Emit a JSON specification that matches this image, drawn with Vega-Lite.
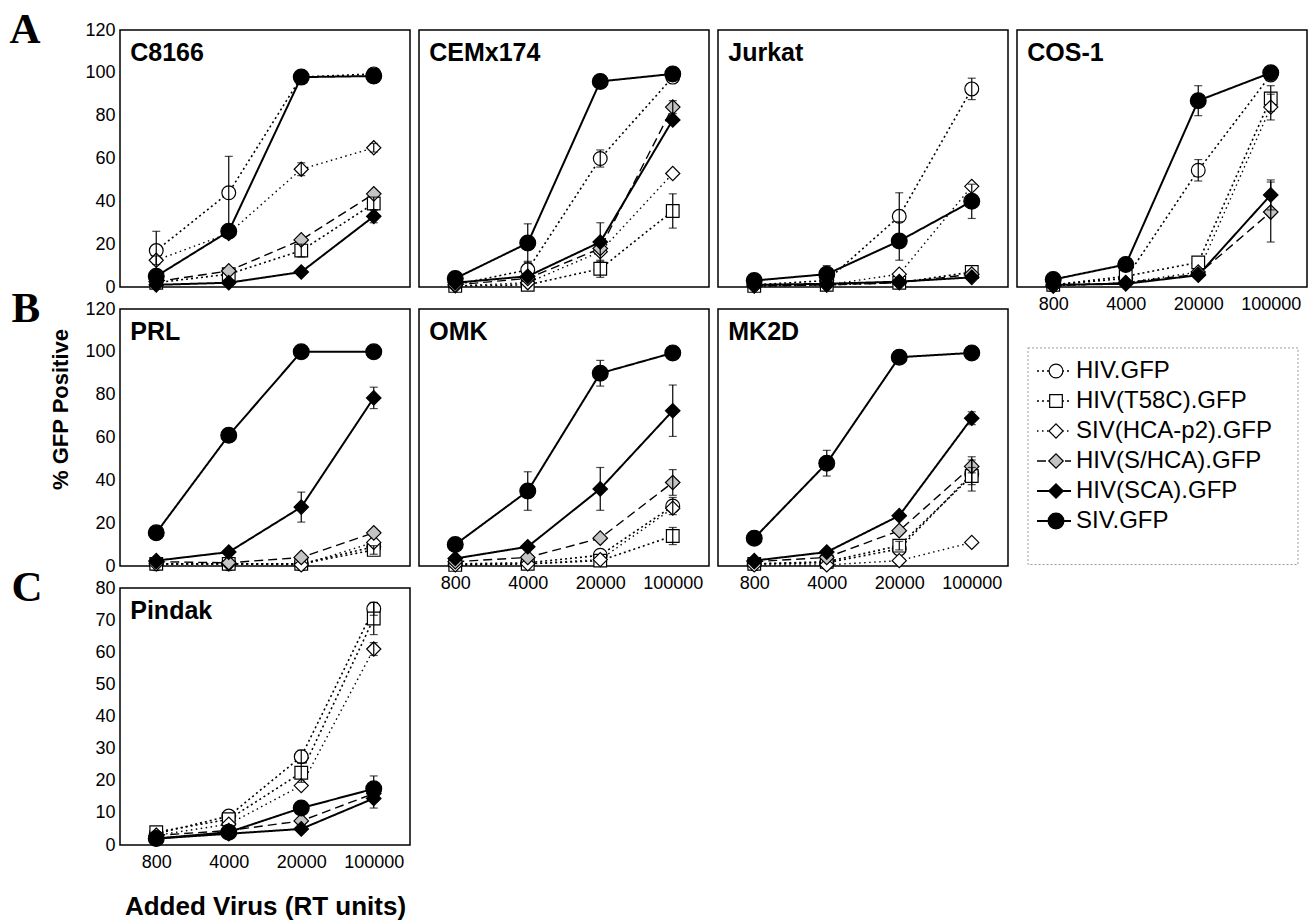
{
  "$schema": "https://vega.github.io/schema/vega-lite/v6.json",
  "padding": {"left": 8, "top": 7, "right": 0, "bottom": 0},
  "columns": 4,
  "spacing": {"row": 22, "column": 9},
  "bounds": "flush",
  "datasets": {
    "gfp": [
      {"cell":"C8166","dose":800,"series":"HIV.GFP","v":17,"err":9},
      {"cell":"C8166","dose":4000,"series":"HIV.GFP","v":44,"err":17},
      {"cell":"C8166","dose":20000,"series":"HIV.GFP","v":98},
      {"cell":"C8166","dose":100000,"series":"HIV.GFP","v":99.5,"err":1},
      {"cell":"C8166","dose":800,"series":"HIV(T58C).GFP","v":2},
      {"cell":"C8166","dose":4000,"series":"HIV(T58C).GFP","v":6},
      {"cell":"C8166","dose":20000,"series":"HIV(T58C).GFP","v":17,"err":3},
      {"cell":"C8166","dose":100000,"series":"HIV(T58C).GFP","v":39,"err":3},
      {"cell":"C8166","dose":800,"series":"SIV(HCA-p2).GFP","v":12.5,"err":2},
      {"cell":"C8166","dose":4000,"series":"SIV(HCA-p2).GFP","v":25},
      {"cell":"C8166","dose":20000,"series":"SIV(HCA-p2).GFP","v":55,"err":3},
      {"cell":"C8166","dose":100000,"series":"SIV(HCA-p2).GFP","v":65,"err":2},
      {"cell":"C8166","dose":800,"series":"HIV(S/HCA).GFP","v":2.5},
      {"cell":"C8166","dose":4000,"series":"HIV(S/HCA).GFP","v":7.5},
      {"cell":"C8166","dose":20000,"series":"HIV(S/HCA).GFP","v":22},
      {"cell":"C8166","dose":100000,"series":"HIV(S/HCA).GFP","v":43.5},
      {"cell":"C8166","dose":800,"series":"HIV(SCA).GFP","v":1},
      {"cell":"C8166","dose":4000,"series":"HIV(SCA).GFP","v":2},
      {"cell":"C8166","dose":20000,"series":"HIV(SCA).GFP","v":7},
      {"cell":"C8166","dose":100000,"series":"HIV(SCA).GFP","v":33,"err":3},
      {"cell":"C8166","dose":800,"series":"SIV.GFP","v":5},
      {"cell":"C8166","dose":4000,"series":"SIV.GFP","v":26},
      {"cell":"C8166","dose":20000,"series":"SIV.GFP","v":98},
      {"cell":"C8166","dose":100000,"series":"SIV.GFP","v":98.5},

      {"cell":"CEMx174","dose":800,"series":"HIV.GFP","v":1},
      {"cell":"CEMx174","dose":4000,"series":"HIV.GFP","v":8,"err":4},
      {"cell":"CEMx174","dose":20000,"series":"HIV.GFP","v":60,"err":4},
      {"cell":"CEMx174","dose":100000,"series":"HIV.GFP","v":98},
      {"cell":"CEMx174","dose":800,"series":"HIV(T58C).GFP","v":0.5},
      {"cell":"CEMx174","dose":4000,"series":"HIV(T58C).GFP","v":1},
      {"cell":"CEMx174","dose":20000,"series":"HIV(T58C).GFP","v":8.5,"err":4},
      {"cell":"CEMx174","dose":100000,"series":"HIV(T58C).GFP","v":35.5,"err":8},
      {"cell":"CEMx174","dose":800,"series":"SIV(HCA-p2).GFP","v":0.5},
      {"cell":"CEMx174","dose":4000,"series":"SIV(HCA-p2).GFP","v":2},
      {"cell":"CEMx174","dose":20000,"series":"SIV(HCA-p2).GFP","v":16.5},
      {"cell":"CEMx174","dose":100000,"series":"SIV(HCA-p2).GFP","v":53},
      {"cell":"CEMx174","dose":800,"series":"HIV(S/HCA).GFP","v":1},
      {"cell":"CEMx174","dose":4000,"series":"HIV(S/HCA).GFP","v":4},
      {"cell":"CEMx174","dose":20000,"series":"HIV(S/HCA).GFP","v":18},
      {"cell":"CEMx174","dose":100000,"series":"HIV(S/HCA).GFP","v":84,"err":3},
      {"cell":"CEMx174","dose":800,"series":"HIV(SCA).GFP","v":2},
      {"cell":"CEMx174","dose":4000,"series":"HIV(SCA).GFP","v":5},
      {"cell":"CEMx174","dose":20000,"series":"HIV(SCA).GFP","v":21,"err":9},
      {"cell":"CEMx174","dose":100000,"series":"HIV(SCA).GFP","v":78},
      {"cell":"CEMx174","dose":800,"series":"SIV.GFP","v":4},
      {"cell":"CEMx174","dose":4000,"series":"SIV.GFP","v":20.5,"err":9},
      {"cell":"CEMx174","dose":20000,"series":"SIV.GFP","v":96,"err":3},
      {"cell":"CEMx174","dose":100000,"series":"SIV.GFP","v":99.5},

      {"cell":"Jurkat","dose":800,"series":"HIV.GFP","v":1},
      {"cell":"Jurkat","dose":4000,"series":"HIV.GFP","v":3},
      {"cell":"Jurkat","dose":20000,"series":"HIV.GFP","v":33,"err":11},
      {"cell":"Jurkat","dose":100000,"series":"HIV.GFP","v":92.5,"err":5},
      {"cell":"Jurkat","dose":800,"series":"HIV(T58C).GFP","v":0.5},
      {"cell":"Jurkat","dose":4000,"series":"HIV(T58C).GFP","v":1},
      {"cell":"Jurkat","dose":20000,"series":"HIV(T58C).GFP","v":2},
      {"cell":"Jurkat","dose":100000,"series":"HIV(T58C).GFP","v":7},
      {"cell":"Jurkat","dose":800,"series":"SIV(HCA-p2).GFP","v":0.5},
      {"cell":"Jurkat","dose":4000,"series":"SIV(HCA-p2).GFP","v":1},
      {"cell":"Jurkat","dose":20000,"series":"SIV(HCA-p2).GFP","v":6},
      {"cell":"Jurkat","dose":100000,"series":"SIV(HCA-p2).GFP","v":47},
      {"cell":"Jurkat","dose":800,"series":"HIV(S/HCA).GFP","v":0.5},
      {"cell":"Jurkat","dose":4000,"series":"HIV(S/HCA).GFP","v":1},
      {"cell":"Jurkat","dose":20000,"series":"HIV(S/HCA).GFP","v":2},
      {"cell":"Jurkat","dose":100000,"series":"HIV(S/HCA).GFP","v":6},
      {"cell":"Jurkat","dose":800,"series":"HIV(SCA).GFP","v":1},
      {"cell":"Jurkat","dose":4000,"series":"HIV(SCA).GFP","v":1.5},
      {"cell":"Jurkat","dose":20000,"series":"HIV(SCA).GFP","v":2.5},
      {"cell":"Jurkat","dose":100000,"series":"HIV(SCA).GFP","v":4.5},
      {"cell":"Jurkat","dose":800,"series":"SIV.GFP","v":3},
      {"cell":"Jurkat","dose":4000,"series":"SIV.GFP","v":6,"err":4},
      {"cell":"Jurkat","dose":20000,"series":"SIV.GFP","v":21.5,"err":9},
      {"cell":"Jurkat","dose":100000,"series":"SIV.GFP","v":40,"err":8},

      {"cell":"COS-1","dose":800,"series":"HIV.GFP","v":1},
      {"cell":"COS-1","dose":4000,"series":"HIV.GFP","v":4},
      {"cell":"COS-1","dose":20000,"series":"HIV.GFP","v":54.5,"err":5},
      {"cell":"COS-1","dose":100000,"series":"HIV.GFP","v":99},
      {"cell":"COS-1","dose":800,"series":"HIV(T58C).GFP","v":1},
      {"cell":"COS-1","dose":4000,"series":"HIV(T58C).GFP","v":5},
      {"cell":"COS-1","dose":20000,"series":"HIV(T58C).GFP","v":11.5},
      {"cell":"COS-1","dose":100000,"series":"HIV(T58C).GFP","v":88,"err":6},
      {"cell":"COS-1","dose":800,"series":"SIV(HCA-p2).GFP","v":0.5},
      {"cell":"COS-1","dose":4000,"series":"SIV(HCA-p2).GFP","v":2},
      {"cell":"COS-1","dose":20000,"series":"SIV(HCA-p2).GFP","v":7},
      {"cell":"COS-1","dose":100000,"series":"SIV(HCA-p2).GFP","v":84,"err":6},
      {"cell":"COS-1","dose":800,"series":"HIV(S/HCA).GFP","v":0.5},
      {"cell":"COS-1","dose":4000,"series":"HIV(S/HCA).GFP","v":2},
      {"cell":"COS-1","dose":20000,"series":"HIV(S/HCA).GFP","v":6},
      {"cell":"COS-1","dose":100000,"series":"HIV(S/HCA).GFP","v":35,"err":14},
      {"cell":"COS-1","dose":800,"series":"HIV(SCA).GFP","v":1},
      {"cell":"COS-1","dose":4000,"series":"HIV(SCA).GFP","v":1.5},
      {"cell":"COS-1","dose":20000,"series":"HIV(SCA).GFP","v":5.5},
      {"cell":"COS-1","dose":100000,"series":"HIV(SCA).GFP","v":43,"err":7},
      {"cell":"COS-1","dose":800,"series":"SIV.GFP","v":3.5},
      {"cell":"COS-1","dose":4000,"series":"SIV.GFP","v":10.5},
      {"cell":"COS-1","dose":20000,"series":"SIV.GFP","v":87,"err":7},
      {"cell":"COS-1","dose":100000,"series":"SIV.GFP","v":100},

      {"cell":"PRL","dose":800,"series":"HIV.GFP","v":1},
      {"cell":"PRL","dose":4000,"series":"HIV.GFP","v":1},
      {"cell":"PRL","dose":20000,"series":"HIV.GFP","v":1},
      {"cell":"PRL","dose":100000,"series":"HIV.GFP","v":9},
      {"cell":"PRL","dose":800,"series":"HIV(T58C).GFP","v":1},
      {"cell":"PRL","dose":4000,"series":"HIV(T58C).GFP","v":1},
      {"cell":"PRL","dose":20000,"series":"HIV(T58C).GFP","v":1},
      {"cell":"PRL","dose":100000,"series":"HIV(T58C).GFP","v":7.5,"err":2},
      {"cell":"PRL","dose":800,"series":"SIV(HCA-p2).GFP","v":1},
      {"cell":"PRL","dose":4000,"series":"SIV(HCA-p2).GFP","v":1},
      {"cell":"PRL","dose":20000,"series":"SIV(HCA-p2).GFP","v":0.5},
      {"cell":"PRL","dose":100000,"series":"SIV(HCA-p2).GFP","v":11},
      {"cell":"PRL","dose":800,"series":"HIV(S/HCA).GFP","v":2},
      {"cell":"PRL","dose":4000,"series":"HIV(S/HCA).GFP","v":1.5},
      {"cell":"PRL","dose":20000,"series":"HIV(S/HCA).GFP","v":4},
      {"cell":"PRL","dose":100000,"series":"HIV(S/HCA).GFP","v":15.5},
      {"cell":"PRL","dose":800,"series":"HIV(SCA).GFP","v":2.5},
      {"cell":"PRL","dose":4000,"series":"HIV(SCA).GFP","v":6.5},
      {"cell":"PRL","dose":20000,"series":"HIV(SCA).GFP","v":27.5,"err":7},
      {"cell":"PRL","dose":100000,"series":"HIV(SCA).GFP","v":78.5,"err":5},
      {"cell":"PRL","dose":800,"series":"SIV.GFP","v":15.5},
      {"cell":"PRL","dose":4000,"series":"SIV.GFP","v":61,"err":3},
      {"cell":"PRL","dose":20000,"series":"SIV.GFP","v":100},
      {"cell":"PRL","dose":100000,"series":"SIV.GFP","v":100},

      {"cell":"OMK","dose":800,"series":"HIV.GFP","v":1},
      {"cell":"OMK","dose":4000,"series":"HIV.GFP","v":1.5},
      {"cell":"OMK","dose":20000,"series":"HIV.GFP","v":5},
      {"cell":"OMK","dose":100000,"series":"HIV.GFP","v":28,"err":4},
      {"cell":"OMK","dose":800,"series":"HIV(T58C).GFP","v":0.5},
      {"cell":"OMK","dose":4000,"series":"HIV(T58C).GFP","v":1},
      {"cell":"OMK","dose":20000,"series":"HIV(T58C).GFP","v":2.5},
      {"cell":"OMK","dose":100000,"series":"HIV(T58C).GFP","v":14,"err":4},
      {"cell":"OMK","dose":800,"series":"SIV(HCA-p2).GFP","v":0.5},
      {"cell":"OMK","dose":4000,"series":"SIV(HCA-p2).GFP","v":1},
      {"cell":"OMK","dose":20000,"series":"SIV(HCA-p2).GFP","v":3},
      {"cell":"OMK","dose":100000,"series":"SIV(HCA-p2).GFP","v":27},
      {"cell":"OMK","dose":800,"series":"HIV(S/HCA).GFP","v":2},
      {"cell":"OMK","dose":4000,"series":"HIV(S/HCA).GFP","v":4},
      {"cell":"OMK","dose":20000,"series":"HIV(S/HCA).GFP","v":13},
      {"cell":"OMK","dose":100000,"series":"HIV(S/HCA).GFP","v":39,"err":6},
      {"cell":"OMK","dose":800,"series":"HIV(SCA).GFP","v":3.5},
      {"cell":"OMK","dose":4000,"series":"HIV(SCA).GFP","v":9},
      {"cell":"OMK","dose":20000,"series":"HIV(SCA).GFP","v":36,"err":10},
      {"cell":"OMK","dose":100000,"series":"HIV(SCA).GFP","v":72.5,"err":12},
      {"cell":"OMK","dose":800,"series":"SIV.GFP","v":10},
      {"cell":"OMK","dose":4000,"series":"SIV.GFP","v":35,"err":9},
      {"cell":"OMK","dose":20000,"series":"SIV.GFP","v":90,"err":6},
      {"cell":"OMK","dose":100000,"series":"SIV.GFP","v":99.5},

      {"cell":"MK2D","dose":800,"series":"HIV.GFP","v":1},
      {"cell":"MK2D","dose":4000,"series":"HIV.GFP","v":1.5},
      {"cell":"MK2D","dose":20000,"series":"HIV.GFP","v":8},
      {"cell":"MK2D","dose":100000,"series":"HIV.GFP","v":43,"err":8},
      {"cell":"MK2D","dose":800,"series":"HIV(T58C).GFP","v":1},
      {"cell":"MK2D","dose":4000,"series":"HIV(T58C).GFP","v":2},
      {"cell":"MK2D","dose":20000,"series":"HIV(T58C).GFP","v":9.5,"err":2},
      {"cell":"MK2D","dose":100000,"series":"HIV(T58C).GFP","v":42,"err":4},
      {"cell":"MK2D","dose":800,"series":"SIV(HCA-p2).GFP","v":0.5},
      {"cell":"MK2D","dose":4000,"series":"SIV(HCA-p2).GFP","v":0.5},
      {"cell":"MK2D","dose":20000,"series":"SIV(HCA-p2).GFP","v":2.5},
      {"cell":"MK2D","dose":100000,"series":"SIV(HCA-p2).GFP","v":11},
      {"cell":"MK2D","dose":800,"series":"HIV(S/HCA).GFP","v":2},
      {"cell":"MK2D","dose":4000,"series":"HIV(S/HCA).GFP","v":4},
      {"cell":"MK2D","dose":20000,"series":"HIV(S/HCA).GFP","v":16.5},
      {"cell":"MK2D","dose":100000,"series":"HIV(S/HCA).GFP","v":46.5,"err":3},
      {"cell":"MK2D","dose":800,"series":"HIV(SCA).GFP","v":2.5},
      {"cell":"MK2D","dose":4000,"series":"HIV(SCA).GFP","v":6.5},
      {"cell":"MK2D","dose":20000,"series":"HIV(SCA).GFP","v":23.5},
      {"cell":"MK2D","dose":100000,"series":"HIV(SCA).GFP","v":69,"err":3},
      {"cell":"MK2D","dose":800,"series":"SIV.GFP","v":13},
      {"cell":"MK2D","dose":4000,"series":"SIV.GFP","v":48,"err":6},
      {"cell":"MK2D","dose":20000,"series":"SIV.GFP","v":97.5},
      {"cell":"MK2D","dose":100000,"series":"SIV.GFP","v":99.5},

      {"cell":"Pindak","dose":800,"series":"HIV.GFP","v":3.5},
      {"cell":"Pindak","dose":4000,"series":"HIV.GFP","v":9},
      {"cell":"Pindak","dose":20000,"series":"HIV.GFP","v":27.5,"err":2},
      {"cell":"Pindak","dose":100000,"series":"HIV.GFP","v":73.5,"err":2},
      {"cell":"Pindak","dose":800,"series":"HIV(T58C).GFP","v":4},
      {"cell":"Pindak","dose":4000,"series":"HIV(T58C).GFP","v":8},
      {"cell":"Pindak","dose":20000,"series":"HIV(T58C).GFP","v":22.5,"err":3},
      {"cell":"Pindak","dose":100000,"series":"HIV(T58C).GFP","v":70.5,"err":5},
      {"cell":"Pindak","dose":800,"series":"SIV(HCA-p2).GFP","v":3},
      {"cell":"Pindak","dose":4000,"series":"SIV(HCA-p2).GFP","v":6.5},
      {"cell":"Pindak","dose":20000,"series":"SIV(HCA-p2).GFP","v":18.5},
      {"cell":"Pindak","dose":100000,"series":"SIV(HCA-p2).GFP","v":61,"err":2},
      {"cell":"Pindak","dose":800,"series":"HIV(S/HCA).GFP","v":3},
      {"cell":"Pindak","dose":4000,"series":"HIV(S/HCA).GFP","v":4.5},
      {"cell":"Pindak","dose":20000,"series":"HIV(S/HCA).GFP","v":7.5},
      {"cell":"Pindak","dose":100000,"series":"HIV(S/HCA).GFP","v":16},
      {"cell":"Pindak","dose":800,"series":"HIV(SCA).GFP","v":2},
      {"cell":"Pindak","dose":4000,"series":"HIV(SCA).GFP","v":3.5},
      {"cell":"Pindak","dose":20000,"series":"HIV(SCA).GFP","v":5},
      {"cell":"Pindak","dose":100000,"series":"HIV(SCA).GFP","v":14.5,"err":3},
      {"cell":"Pindak","dose":800,"series":"SIV.GFP","v":2},
      {"cell":"Pindak","dose":4000,"series":"SIV.GFP","v":4},
      {"cell":"Pindak","dose":20000,"series":"SIV.GFP","v":11.5},
      {"cell":"Pindak","dose":100000,"series":"SIV.GFP","v":17.5,"err":4}
    ],
    "keys": [
      {"series":"HIV.GFP","order":1},
      {"series":"HIV(T58C).GFP","order":2},
      {"series":"SIV(HCA-p2).GFP","order":3},
      {"series":"HIV(S/HCA).GFP","order":4},
      {"series":"HIV(SCA).GFP","order":5},
      {"series":"SIV.GFP","order":6}
    ]
  },
  "concat": [
    {
      "width": 290, "height": 257,
      "data": {"name": "gfp"},
      "transform": [{"filter": "datum.cell === 'C8166'"}],
      "encoding": {
        "x": {"field": "dose", "type": "ordinal", "scale": {"type": "point", "padding": 0.5, "domain": [800,4000,20000,100000]},
              "axis": {"labels": false, "title": "% GFP Positive", "titleFontSize": 22, "titleFontWeight": "bold", "titleAngle": -90, "titleX": -60, "titleY": 122, "titleAlign": "center", "titleBaseline": "middle"}},
        "y": {"field": "v", "type": "quantitative", "scale": {"domain": [0,120], "nice": false},
              "axis": {"values": [0,20,40,60,80,100,120], "title": "A", "titleFont": "Liberation Serif", "titleFontSize": 43, "titleFontWeight": "bold", "titleAngle": 0, "titleX": -111, "titleY": 12, "titleAlign": "left", "titleBaseline": "alphabetic"}}
      },
      "layer": [
        {"mark": {"type": "line", "color": "black"},
         "encoding": {"strokeDash": {"field": "series", "type": "nominal", "scale": {"domain": ["HIV.GFP","HIV(T58C).GFP","SIV(HCA-p2).GFP","HIV(S/HCA).GFP","HIV(SCA).GFP","SIV.GFP"], "range": [[2,3],[2,3],[1.5,3.5],[9,5],[1,0],[1,0]]}, "legend": null},
                      "strokeWidth": {"field": "series", "type": "ordinal", "scale": {"type": "ordinal", "domain": ["HIV.GFP","HIV(T58C).GFP","SIV(HCA-p2).GFP","HIV(S/HCA).GFP","HIV(SCA).GFP","SIV.GFP"], "range": [1.6,1.6,1.4,1.4,2,2]}, "legend": null}}},
        {"mark": {"type": "point", "filled": true, "stroke": "black", "strokeWidth": 1.2, "opacity": 1},
         "encoding": {"shape": {"field": "series", "type": "nominal", "scale": {"domain": ["HIV.GFP","HIV(T58C).GFP","SIV(HCA-p2).GFP","HIV(S/HCA).GFP","HIV(SCA).GFP","SIV.GFP"], "range": ["circle","square","diamond","diamond","diamond","circle"]}, "legend": null},
                      "fill": {"field": "series", "type": "nominal", "scale": {"domain": ["HIV.GFP","HIV(T58C).GFP","SIV(HCA-p2).GFP","HIV(S/HCA).GFP","HIV(SCA).GFP","SIV.GFP"], "range": ["white","white","white","#c4c4c4","black","black"]}, "legend": null},
                      "size": {"field": "series", "type": "ordinal", "scale": {"type": "ordinal", "domain": ["HIV.GFP","HIV(T58C).GFP","SIV(HCA-p2).GFP","HIV(S/HCA).GFP","HIV(SCA).GFP","SIV.GFP"], "range": [190,160,200,210,210,250]}, "legend": null}}},
        {"transform": [{"filter": "datum.err > 0"}],
         "mark": {"type": "errorbar", "ticks": {"size": 8}, "color": "black", "thickness": 1.2},
         "encoding": {"y": {"field": "v", "type": "quantitative"}, "yError": {"field": "err"}}},
        {"transform": [{"filter": "datum.dose === 800 && datum.series === 'SIV.GFP'"}],
         "mark": {"type": "text", "align": "left", "baseline": "alphabetic", "dx": -26, "dy": 31, "fontSize": 25, "fontWeight": "bold", "font": "Liberation Sans", "color": "black"},
         "encoding": {"y": {"datum": 120}, "text": {"field": "cell"}}}
      ]
    },
    {
      "width": 290, "height": 257,
      "data": {"name": "gfp"},
      "transform": [{"filter": "datum.cell === 'CEMx174'"}],
      "encoding": {
        "x": {"field": "dose", "type": "ordinal", "scale": {"type": "point", "padding": 0.5, "domain": [800,4000,20000,100000]}, "axis": null},
        "y": {"field": "v", "type": "quantitative", "scale": {"domain": [0,120], "nice": false}, "axis": null}
      },
      "layer": [
        {"mark": {"type": "line", "color": "black"},
         "encoding": {"strokeDash": {"field": "series", "type": "nominal", "scale": {"domain": ["HIV.GFP","HIV(T58C).GFP","SIV(HCA-p2).GFP","HIV(S/HCA).GFP","HIV(SCA).GFP","SIV.GFP"], "range": [[2,3],[2,3],[1.5,3.5],[9,5],[1,0],[1,0]]}, "legend": null},
                      "strokeWidth": {"field": "series", "type": "ordinal", "scale": {"type": "ordinal", "domain": ["HIV.GFP","HIV(T58C).GFP","SIV(HCA-p2).GFP","HIV(S/HCA).GFP","HIV(SCA).GFP","SIV.GFP"], "range": [1.6,1.6,1.4,1.4,2,2]}, "legend": null}}},
        {"mark": {"type": "point", "filled": true, "stroke": "black", "strokeWidth": 1.2, "opacity": 1},
         "encoding": {"shape": {"field": "series", "type": "nominal", "scale": {"domain": ["HIV.GFP","HIV(T58C).GFP","SIV(HCA-p2).GFP","HIV(S/HCA).GFP","HIV(SCA).GFP","SIV.GFP"], "range": ["circle","square","diamond","diamond","diamond","circle"]}, "legend": null},
                      "fill": {"field": "series", "type": "nominal", "scale": {"domain": ["HIV.GFP","HIV(T58C).GFP","SIV(HCA-p2).GFP","HIV(S/HCA).GFP","HIV(SCA).GFP","SIV.GFP"], "range": ["white","white","white","#c4c4c4","black","black"]}, "legend": null},
                      "size": {"field": "series", "type": "ordinal", "scale": {"type": "ordinal", "domain": ["HIV.GFP","HIV(T58C).GFP","SIV(HCA-p2).GFP","HIV(S/HCA).GFP","HIV(SCA).GFP","SIV.GFP"], "range": [190,160,200,210,210,250]}, "legend": null}}},
        {"transform": [{"filter": "datum.err > 0"}],
         "mark": {"type": "errorbar", "ticks": {"size": 8}, "color": "black", "thickness": 1.2},
         "encoding": {"y": {"field": "v", "type": "quantitative"}, "yError": {"field": "err"}}},
        {"transform": [{"filter": "datum.dose === 800 && datum.series === 'SIV.GFP'"}],
         "mark": {"type": "text", "align": "left", "baseline": "alphabetic", "dx": -26, "dy": 31, "fontSize": 25, "fontWeight": "bold", "font": "Liberation Sans", "color": "black"},
         "encoding": {"y": {"datum": 120}, "text": {"field": "cell"}}}
      ]
    },
    {
      "width": 290, "height": 257,
      "data": {"name": "gfp"},
      "transform": [{"filter": "datum.cell === 'Jurkat'"}],
      "encoding": {
        "x": {"field": "dose", "type": "ordinal", "scale": {"type": "point", "padding": 0.5, "domain": [800,4000,20000,100000]}, "axis": null},
        "y": {"field": "v", "type": "quantitative", "scale": {"domain": [0,120], "nice": false}, "axis": null}
      },
      "layer": [
        {"mark": {"type": "line", "color": "black"},
         "encoding": {"strokeDash": {"field": "series", "type": "nominal", "scale": {"domain": ["HIV.GFP","HIV(T58C).GFP","SIV(HCA-p2).GFP","HIV(S/HCA).GFP","HIV(SCA).GFP","SIV.GFP"], "range": [[2,3],[2,3],[1.5,3.5],[9,5],[1,0],[1,0]]}, "legend": null},
                      "strokeWidth": {"field": "series", "type": "ordinal", "scale": {"type": "ordinal", "domain": ["HIV.GFP","HIV(T58C).GFP","SIV(HCA-p2).GFP","HIV(S/HCA).GFP","HIV(SCA).GFP","SIV.GFP"], "range": [1.6,1.6,1.4,1.4,2,2]}, "legend": null}}},
        {"mark": {"type": "point", "filled": true, "stroke": "black", "strokeWidth": 1.2, "opacity": 1},
         "encoding": {"shape": {"field": "series", "type": "nominal", "scale": {"domain": ["HIV.GFP","HIV(T58C).GFP","SIV(HCA-p2).GFP","HIV(S/HCA).GFP","HIV(SCA).GFP","SIV.GFP"], "range": ["circle","square","diamond","diamond","diamond","circle"]}, "legend": null},
                      "fill": {"field": "series", "type": "nominal", "scale": {"domain": ["HIV.GFP","HIV(T58C).GFP","SIV(HCA-p2).GFP","HIV(S/HCA).GFP","HIV(SCA).GFP","SIV.GFP"], "range": ["white","white","white","#c4c4c4","black","black"]}, "legend": null},
                      "size": {"field": "series", "type": "ordinal", "scale": {"type": "ordinal", "domain": ["HIV.GFP","HIV(T58C).GFP","SIV(HCA-p2).GFP","HIV(S/HCA).GFP","HIV(SCA).GFP","SIV.GFP"], "range": [190,160,200,210,210,250]}, "legend": null}}},
        {"transform": [{"filter": "datum.err > 0"}],
         "mark": {"type": "errorbar", "ticks": {"size": 8}, "color": "black", "thickness": 1.2},
         "encoding": {"y": {"field": "v", "type": "quantitative"}, "yError": {"field": "err"}}},
        {"transform": [{"filter": "datum.dose === 800 && datum.series === 'SIV.GFP'"}],
         "mark": {"type": "text", "align": "left", "baseline": "alphabetic", "dx": -26, "dy": 31, "fontSize": 25, "fontWeight": "bold", "font": "Liberation Sans", "color": "black"},
         "encoding": {"y": {"datum": 120}, "text": {"field": "cell"}}}
      ]
    },
    {
      "width": 290, "height": 257,
      "data": {"name": "gfp"},
      "transform": [{"filter": "datum.cell === 'COS-1'"}],
      "encoding": {
        "x": {"field": "dose", "type": "ordinal", "scale": {"type": "point", "padding": 0.5, "domain": [800,4000,20000,100000]}, "axis": {"title": null}},
        "y": {"field": "v", "type": "quantitative", "scale": {"domain": [0,120], "nice": false}, "axis": null}
      },
      "layer": [
        {"mark": {"type": "line", "color": "black"},
         "encoding": {"strokeDash": {"field": "series", "type": "nominal", "scale": {"domain": ["HIV.GFP","HIV(T58C).GFP","SIV(HCA-p2).GFP","HIV(S/HCA).GFP","HIV(SCA).GFP","SIV.GFP"], "range": [[2,3],[2,3],[1.5,3.5],[9,5],[1,0],[1,0]]}, "legend": null},
                      "strokeWidth": {"field": "series", "type": "ordinal", "scale": {"type": "ordinal", "domain": ["HIV.GFP","HIV(T58C).GFP","SIV(HCA-p2).GFP","HIV(S/HCA).GFP","HIV(SCA).GFP","SIV.GFP"], "range": [1.6,1.6,1.4,1.4,2,2]}, "legend": null}}},
        {"mark": {"type": "point", "filled": true, "stroke": "black", "strokeWidth": 1.2, "opacity": 1},
         "encoding": {"shape": {"field": "series", "type": "nominal", "scale": {"domain": ["HIV.GFP","HIV(T58C).GFP","SIV(HCA-p2).GFP","HIV(S/HCA).GFP","HIV(SCA).GFP","SIV.GFP"], "range": ["circle","square","diamond","diamond","diamond","circle"]}, "legend": null},
                      "fill": {"field": "series", "type": "nominal", "scale": {"domain": ["HIV.GFP","HIV(T58C).GFP","SIV(HCA-p2).GFP","HIV(S/HCA).GFP","HIV(SCA).GFP","SIV.GFP"], "range": ["white","white","white","#c4c4c4","black","black"]}, "legend": null},
                      "size": {"field": "series", "type": "ordinal", "scale": {"type": "ordinal", "domain": ["HIV.GFP","HIV(T58C).GFP","SIV(HCA-p2).GFP","HIV(S/HCA).GFP","HIV(SCA).GFP","SIV.GFP"], "range": [190,160,200,210,210,250]}, "legend": null}}},
        {"transform": [{"filter": "datum.err > 0"}],
         "mark": {"type": "errorbar", "ticks": {"size": 8}, "color": "black", "thickness": 1.2},
         "encoding": {"y": {"field": "v", "type": "quantitative"}, "yError": {"field": "err"}}},
        {"transform": [{"filter": "datum.dose === 800 && datum.series === 'SIV.GFP'"}],
         "mark": {"type": "text", "align": "left", "baseline": "alphabetic", "dx": -26, "dy": 31, "fontSize": 25, "fontWeight": "bold", "font": "Liberation Sans", "color": "black"},
         "encoding": {"y": {"datum": 120}, "text": {"field": "cell"}}}
      ]
    },
    {
      "width": 290, "height": 257,
      "data": {"name": "gfp"},
      "transform": [{"filter": "datum.cell === 'PRL'"}],
      "encoding": {
        "x": {"field": "dose", "type": "ordinal", "scale": {"type": "point", "padding": 0.5, "domain": [800,4000,20000,100000]}, "axis": null},
        "y": {"field": "v", "type": "quantitative", "scale": {"domain": [0,120], "nice": false},
              "axis": {"values": [0,20,40,60,80,100,120], "title": "B", "titleFont": "Liberation Serif", "titleFontSize": 43, "titleFontWeight": "bold", "titleAngle": 0, "titleX": -109, "titleY": 12, "titleAlign": "left", "titleBaseline": "alphabetic"}}
      },
      "layer": [
        {"mark": {"type": "line", "color": "black"},
         "encoding": {"strokeDash": {"field": "series", "type": "nominal", "scale": {"domain": ["HIV.GFP","HIV(T58C).GFP","SIV(HCA-p2).GFP","HIV(S/HCA).GFP","HIV(SCA).GFP","SIV.GFP"], "range": [[2,3],[2,3],[1.5,3.5],[9,5],[1,0],[1,0]]}, "legend": null},
                      "strokeWidth": {"field": "series", "type": "ordinal", "scale": {"type": "ordinal", "domain": ["HIV.GFP","HIV(T58C).GFP","SIV(HCA-p2).GFP","HIV(S/HCA).GFP","HIV(SCA).GFP","SIV.GFP"], "range": [1.6,1.6,1.4,1.4,2,2]}, "legend": null}}},
        {"mark": {"type": "point", "filled": true, "stroke": "black", "strokeWidth": 1.2, "opacity": 1},
         "encoding": {"shape": {"field": "series", "type": "nominal", "scale": {"domain": ["HIV.GFP","HIV(T58C).GFP","SIV(HCA-p2).GFP","HIV(S/HCA).GFP","HIV(SCA).GFP","SIV.GFP"], "range": ["circle","square","diamond","diamond","diamond","circle"]}, "legend": null},
                      "fill": {"field": "series", "type": "nominal", "scale": {"domain": ["HIV.GFP","HIV(T58C).GFP","SIV(HCA-p2).GFP","HIV(S/HCA).GFP","HIV(SCA).GFP","SIV.GFP"], "range": ["white","white","white","#c4c4c4","black","black"]}, "legend": null},
                      "size": {"field": "series", "type": "ordinal", "scale": {"type": "ordinal", "domain": ["HIV.GFP","HIV(T58C).GFP","SIV(HCA-p2).GFP","HIV(S/HCA).GFP","HIV(SCA).GFP","SIV.GFP"], "range": [190,160,200,210,210,250]}, "legend": null}}},
        {"transform": [{"filter": "datum.err > 0"}],
         "mark": {"type": "errorbar", "ticks": {"size": 8}, "color": "black", "thickness": 1.2},
         "encoding": {"y": {"field": "v", "type": "quantitative"}, "yError": {"field": "err"}}},
        {"transform": [{"filter": "datum.dose === 800 && datum.series === 'SIV.GFP'"}],
         "mark": {"type": "text", "align": "left", "baseline": "alphabetic", "dx": -26, "dy": 31, "fontSize": 25, "fontWeight": "bold", "font": "Liberation Sans", "color": "black"},
         "encoding": {"y": {"datum": 120}, "text": {"field": "cell"}}}
      ]
    },
    {
      "width": 290, "height": 257,
      "data": {"name": "gfp"},
      "transform": [{"filter": "datum.cell === 'OMK'"}],
      "encoding": {
        "x": {"field": "dose", "type": "ordinal", "scale": {"type": "point", "padding": 0.5, "domain": [800,4000,20000,100000]}, "axis": {"title": null}},
        "y": {"field": "v", "type": "quantitative", "scale": {"domain": [0,120], "nice": false}, "axis": null}
      },
      "layer": [
        {"mark": {"type": "line", "color": "black"},
         "encoding": {"strokeDash": {"field": "series", "type": "nominal", "scale": {"domain": ["HIV.GFP","HIV(T58C).GFP","SIV(HCA-p2).GFP","HIV(S/HCA).GFP","HIV(SCA).GFP","SIV.GFP"], "range": [[2,3],[2,3],[1.5,3.5],[9,5],[1,0],[1,0]]}, "legend": null},
                      "strokeWidth": {"field": "series", "type": "ordinal", "scale": {"type": "ordinal", "domain": ["HIV.GFP","HIV(T58C).GFP","SIV(HCA-p2).GFP","HIV(S/HCA).GFP","HIV(SCA).GFP","SIV.GFP"], "range": [1.6,1.6,1.4,1.4,2,2]}, "legend": null}}},
        {"mark": {"type": "point", "filled": true, "stroke": "black", "strokeWidth": 1.2, "opacity": 1},
         "encoding": {"shape": {"field": "series", "type": "nominal", "scale": {"domain": ["HIV.GFP","HIV(T58C).GFP","SIV(HCA-p2).GFP","HIV(S/HCA).GFP","HIV(SCA).GFP","SIV.GFP"], "range": ["circle","square","diamond","diamond","diamond","circle"]}, "legend": null},
                      "fill": {"field": "series", "type": "nominal", "scale": {"domain": ["HIV.GFP","HIV(T58C).GFP","SIV(HCA-p2).GFP","HIV(S/HCA).GFP","HIV(SCA).GFP","SIV.GFP"], "range": ["white","white","white","#c4c4c4","black","black"]}, "legend": null},
                      "size": {"field": "series", "type": "ordinal", "scale": {"type": "ordinal", "domain": ["HIV.GFP","HIV(T58C).GFP","SIV(HCA-p2).GFP","HIV(S/HCA).GFP","HIV(SCA).GFP","SIV.GFP"], "range": [190,160,200,210,210,250]}, "legend": null}}},
        {"transform": [{"filter": "datum.err > 0"}],
         "mark": {"type": "errorbar", "ticks": {"size": 8}, "color": "black", "thickness": 1.2},
         "encoding": {"y": {"field": "v", "type": "quantitative"}, "yError": {"field": "err"}}},
        {"transform": [{"filter": "datum.dose === 800 && datum.series === 'SIV.GFP'"}],
         "mark": {"type": "text", "align": "left", "baseline": "alphabetic", "dx": -26, "dy": 31, "fontSize": 25, "fontWeight": "bold", "font": "Liberation Sans", "color": "black"},
         "encoding": {"y": {"datum": 120}, "text": {"field": "cell"}}}
      ]
    },
    {
      "width": 290, "height": 257,
      "data": {"name": "gfp"},
      "transform": [{"filter": "datum.cell === 'MK2D'"}],
      "encoding": {
        "x": {"field": "dose", "type": "ordinal", "scale": {"type": "point", "padding": 0.5, "domain": [800,4000,20000,100000]}, "axis": {"title": null}},
        "y": {"field": "v", "type": "quantitative", "scale": {"domain": [0,120], "nice": false}, "axis": null}
      },
      "layer": [
        {"mark": {"type": "line", "color": "black"},
         "encoding": {"strokeDash": {"field": "series", "type": "nominal", "scale": {"domain": ["HIV.GFP","HIV(T58C).GFP","SIV(HCA-p2).GFP","HIV(S/HCA).GFP","HIV(SCA).GFP","SIV.GFP"], "range": [[2,3],[2,3],[1.5,3.5],[9,5],[1,0],[1,0]]}, "legend": null},
                      "strokeWidth": {"field": "series", "type": "ordinal", "scale": {"type": "ordinal", "domain": ["HIV.GFP","HIV(T58C).GFP","SIV(HCA-p2).GFP","HIV(S/HCA).GFP","HIV(SCA).GFP","SIV.GFP"], "range": [1.6,1.6,1.4,1.4,2,2]}, "legend": null}}},
        {"mark": {"type": "point", "filled": true, "stroke": "black", "strokeWidth": 1.2, "opacity": 1},
         "encoding": {"shape": {"field": "series", "type": "nominal", "scale": {"domain": ["HIV.GFP","HIV(T58C).GFP","SIV(HCA-p2).GFP","HIV(S/HCA).GFP","HIV(SCA).GFP","SIV.GFP"], "range": ["circle","square","diamond","diamond","diamond","circle"]}, "legend": null},
                      "fill": {"field": "series", "type": "nominal", "scale": {"domain": ["HIV.GFP","HIV(T58C).GFP","SIV(HCA-p2).GFP","HIV(S/HCA).GFP","HIV(SCA).GFP","SIV.GFP"], "range": ["white","white","white","#c4c4c4","black","black"]}, "legend": null},
                      "size": {"field": "series", "type": "ordinal", "scale": {"type": "ordinal", "domain": ["HIV.GFP","HIV(T58C).GFP","SIV(HCA-p2).GFP","HIV(S/HCA).GFP","HIV(SCA).GFP","SIV.GFP"], "range": [190,160,200,210,210,250]}, "legend": null}}},
        {"transform": [{"filter": "datum.err > 0"}],
         "mark": {"type": "errorbar", "ticks": {"size": 8}, "color": "black", "thickness": 1.2},
         "encoding": {"y": {"field": "v", "type": "quantitative"}, "yError": {"field": "err"}}},
        {"transform": [{"filter": "datum.dose === 800 && datum.series === 'SIV.GFP'"}],
         "mark": {"type": "text", "align": "left", "baseline": "alphabetic", "dx": -26, "dy": 31, "fontSize": 25, "fontWeight": "bold", "font": "Liberation Sans", "color": "black"},
         "encoding": {"y": {"datum": 120}, "text": {"field": "cell"}}}
      ]
    },
    {
      "width": 290, "height": 257,
      "view": {"stroke": null},
      "data": {"name": "keys"},
      "layer": [
        {"transform": [{"filter": "datum.order === 1"}],
         "mark": {"type": "rect", "filled": false, "color": "#9a9a9a", "strokeWidth": 1, "strokeDash": [2,2]},
         "encoding": {"x": {"datum": 1.1, "type": "quantitative", "scale": {"domain": [0,29]}, "axis": null}, "x2": {"datum": 28.1},
                      "y": {"datum": 0.23, "type": "quantitative", "scale": {"domain": [-1.067,7.5], "reverse": true}, "axis": null}, "y2": {"datum": 7.45}}},
        {"mark": {"type": "rule", "color": "black"},
         "encoding": {"x": {"datum": 2.0, "type": "quantitative", "scale": {"domain": [0,29]}, "axis": null}, "x2": {"datum": 5.4},
                      "y": {"field": "order", "type": "quantitative", "scale": {"domain": [-1.067,7.5], "reverse": true}, "axis": null},
                      "strokeDash": {"field": "series", "type": "nominal", "scale": {"domain": ["HIV.GFP","HIV(T58C).GFP","SIV(HCA-p2).GFP","HIV(S/HCA).GFP","HIV(SCA).GFP","SIV.GFP"], "range": [[2,3],[2,3],[1.5,3.5],[9,5],[1,0],[1,0]]}, "legend": null},
                      "strokeWidth": {"field": "series", "type": "ordinal", "scale": {"type": "ordinal", "domain": ["HIV.GFP","HIV(T58C).GFP","SIV(HCA-p2).GFP","HIV(S/HCA).GFP","HIV(SCA).GFP","SIV.GFP"], "range": [1.6,1.6,1.4,1.4,2,2]}, "legend": null}}},
        {"mark": {"type": "point", "filled": true, "stroke": "black", "strokeWidth": 1.2, "opacity": 1},
         "encoding": {"x": {"datum": 3.9, "type": "quantitative", "scale": {"domain": [0,29]}, "axis": null},
                      "y": {"field": "order", "type": "quantitative", "scale": {"domain": [-1.067,7.5], "reverse": true}, "axis": null},
                      "shape": {"field": "series", "type": "nominal", "scale": {"domain": ["HIV.GFP","HIV(T58C).GFP","SIV(HCA-p2).GFP","HIV(S/HCA).GFP","HIV(SCA).GFP","SIV.GFP"], "range": ["circle","square","diamond","diamond","diamond","circle"]}, "legend": null},
                      "fill": {"field": "series", "type": "nominal", "scale": {"domain": ["HIV.GFP","HIV(T58C).GFP","SIV(HCA-p2).GFP","HIV(S/HCA).GFP","HIV(SCA).GFP","SIV.GFP"], "range": ["white","white","white","#c4c4c4","black","black"]}, "legend": null},
                      "size": {"field": "series", "type": "ordinal", "scale": {"type": "ordinal", "domain": ["HIV.GFP","HIV(T58C).GFP","SIV(HCA-p2).GFP","HIV(S/HCA).GFP","HIV(SCA).GFP","SIV.GFP"], "range": [190,160,200,210,210,250]}, "legend": null}}},
        {"mark": {"type": "text", "align": "left", "baseline": "middle", "fontSize": 24, "font": "Liberation Sans", "color": "black"},
         "encoding": {"x": {"datum": 5.9, "type": "quantitative", "scale": {"domain": [0,29]}, "axis": null},
                      "y": {"field": "order", "type": "quantitative", "scale": {"domain": [-1.067,7.5], "reverse": true}, "axis": null},
                      "text": {"field": "series"}}}
      ]
    },
    {
      "width": 290, "height": 257,
      "data": {"name": "gfp"},
      "transform": [{"filter": "datum.cell === 'Pindak'"}],
      "encoding": {
        "x": {"field": "dose", "type": "ordinal", "scale": {"type": "point", "padding": 0.5, "domain": [800,4000,20000,100000]},
              "axis": {"title": "Added Virus (RT units)", "titleFontSize": 26, "titleFontWeight": "bold", "titlePadding": 22}},
        "y": {"field": "v", "type": "quantitative", "scale": {"domain": [0,80], "nice": false},
              "axis": {"values": [0,10,20,30,40,50,60,70,80], "title": "C", "titleFont": "Liberation Serif", "titleFontSize": 43, "titleFontWeight": "bold", "titleAngle": 0, "titleX": -109, "titleY": 12, "titleAlign": "left", "titleBaseline": "alphabetic"}}
      },
      "layer": [
        {"mark": {"type": "line", "color": "black"},
         "encoding": {"strokeDash": {"field": "series", "type": "nominal", "scale": {"domain": ["HIV.GFP","HIV(T58C).GFP","SIV(HCA-p2).GFP","HIV(S/HCA).GFP","HIV(SCA).GFP","SIV.GFP"], "range": [[2,3],[2,3],[1.5,3.5],[9,5],[1,0],[1,0]]}, "legend": null},
                      "strokeWidth": {"field": "series", "type": "ordinal", "scale": {"type": "ordinal", "domain": ["HIV.GFP","HIV(T58C).GFP","SIV(HCA-p2).GFP","HIV(S/HCA).GFP","HIV(SCA).GFP","SIV.GFP"], "range": [1.6,1.6,1.4,1.4,2,2]}, "legend": null}}},
        {"mark": {"type": "point", "filled": true, "stroke": "black", "strokeWidth": 1.2, "opacity": 1},
         "encoding": {"shape": {"field": "series", "type": "nominal", "scale": {"domain": ["HIV.GFP","HIV(T58C).GFP","SIV(HCA-p2).GFP","HIV(S/HCA).GFP","HIV(SCA).GFP","SIV.GFP"], "range": ["circle","square","diamond","diamond","diamond","circle"]}, "legend": null},
                      "fill": {"field": "series", "type": "nominal", "scale": {"domain": ["HIV.GFP","HIV(T58C).GFP","SIV(HCA-p2).GFP","HIV(S/HCA).GFP","HIV(SCA).GFP","SIV.GFP"], "range": ["white","white","white","#c4c4c4","black","black"]}, "legend": null},
                      "size": {"field": "series", "type": "ordinal", "scale": {"type": "ordinal", "domain": ["HIV.GFP","HIV(T58C).GFP","SIV(HCA-p2).GFP","HIV(S/HCA).GFP","HIV(SCA).GFP","SIV.GFP"], "range": [190,160,200,210,210,250]}, "legend": null}}},
        {"transform": [{"filter": "datum.err > 0"}],
         "mark": {"type": "errorbar", "ticks": {"size": 8}, "color": "black", "thickness": 1.2},
         "encoding": {"y": {"field": "v", "type": "quantitative"}, "yError": {"field": "err"}}},
        {"transform": [{"filter": "datum.dose === 800 && datum.series === 'SIV.GFP'"}],
         "mark": {"type": "text", "align": "left", "baseline": "alphabetic", "dx": -26, "dy": 31, "fontSize": 25, "fontWeight": "bold", "font": "Liberation Sans", "color": "black"},
         "encoding": {"y": {"datum": 80}, "text": {"field": "cell"}}}
      ]
    }
  ],
  "config": {
    "font": "Liberation Sans",
    "view": {"stroke": "black", "strokeWidth": 1.5},
    "axis": {"grid": false, "ticks": false, "domain": false, "labelFont": "Liberation Sans", "labelFontSize": 18, "labelColor": "black", "titleFont": "Liberation Sans", "titleColor": "black"},
    "axisX": {"labelAngle": 0, "labelPadding": 8},
    "axisY": {"labelPadding": 5}
  }
}
